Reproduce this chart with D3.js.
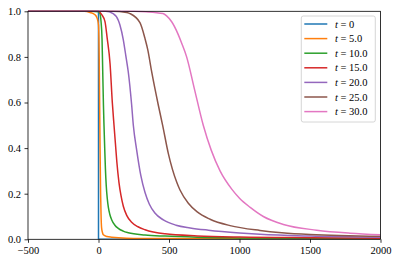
<!DOCTYPE html>
<html><head><meta charset="utf-8">
<script src="https://cdn.jsdelivr.net/npm/d3@7"></script>
<style>body{margin:0;background:#fff}svg{display:block}text{font-family:"Liberation Serif","DejaVu Serif",serif}</style>
</head><body><div id="c"></div>
<script>
const labels = ["0", "5.0", "10.0", "15.0", "20.0", "25.0", "30.0"];
const colors = ["#1f77b4","#ff7f0e","#2ca02c","#d62728","#9467bd","#8c564b","#e377c2"];
const xTicks = [-500, 0, 500, 1000, 1500, 2000];
const yTicks = [0, 0.2, 0.4, 0.6, 0.8, 1.0];

const s0 = [[-500,1],[0,1],[0,0],[2000,0]];
const s5 = [[-500,1],[-100,1],[-60,0.995],[-25,0.985],[-10,0.97],[0,0.94],[5,0.8],[8,0.6],[11,0.4],[15,0.2],[18,0.11],[22,0.05],[28,0.03],[34,0.02],[60,0.012],[94,0.009],[200,0.005],[500,0.003],[1000,0.002],[2000,0.001]];
const s10 = [[-500,1],[-50,1],[0,0.998],[10,0.99],[18,0.955],[25,0.88],[30,0.735],[35,0.59],[39,0.5],[44,0.4],[49,0.31],[55,0.235],[62,0.18],[70,0.14],[80,0.11],[94,0.085],[115,0.063],[140,0.048],[175,0.036],[211,0.029],[330,0.019],[472,0.014],[700,0.009],[1000,0.006],[1500,0.004],[2000,0.003]];
const s15 = [[-500,1],[0,1],[11,0.995],[23,0.985],[46,0.955],[62,0.88],[82,0.77],[98,0.6],[110,0.5],[120,0.42],[130,0.34],[145,0.25],[160,0.19],[176,0.145],[200,0.105],[235,0.075],[280,0.055],[330,0.042],[472,0.024],[700,0.015],[1000,0.01],[1500,0.007],[2000,0.005]];
const s20 = [[-500,1],[50,1],[104,0.99],[141,0.96],[152,0.94],[176,0.875],[195,0.8],[211,0.735],[235,0.59],[247,0.5],[271,0.39],[300,0.28],[330,0.205],[360,0.155],[400,0.115],[460,0.085],[550,0.062],[650,0.05],[780,0.04],[1000,0.028],[1145,0.022],[1500,0.014],[2000,0.009]];
const s25 = [[-500,1],[100,1],[200,0.995],[223,0.99],[294,0.95],[330,0.88],[350,0.83],[377,0.735],[424,0.589],[455,0.5],[495,0.377],[555,0.25],[578,0.216],[637,0.158],[700,0.12],[791,0.088],[933,0.06],[1145,0.039],[1300,0.029],[1500,0.021],[2000,0.013]];
const s30 = [[-500,1],[250,1],[337,0.998],[457,0.99],[483,0.98],[519,0.954],[564,0.9],[590,0.86],[625,0.8],[680,0.66],[743,0.5],[800,0.39],[862,0.3],[945,0.22],[1000,0.18],[1076,0.14],[1169,0.1],[1311,0.065],[1547,0.04],[1784,0.027],[2000,0.02]];
const series = [s0, s5, s10, s15, s20, s25, s30];

const W = 399, H = 264;
const m = {l: 28, r: 18.5, t: 11.3, b: 24.7};
const svg = d3.select("#c").append("svg").attr("width", W).attr("height", H);
const x = d3.scaleLinear().domain([-500, 2000]).range([m.l, W - m.r]);
const y = d3.scaleLinear().domain([0, 1]).range([H - m.b, m.t]);

svg.append("clipPath").attr("id", "clip").append("rect")
  .attr("x", m.l).attr("y", m.t - 1).attr("width", x.range()[1] - m.l).attr("height", y(0) - m.t + 1);

const g = svg.append("g").attr("clip-path", "url(#clip)");
series.forEach((s, i) => {
  const line = d3.line().x(d => x(d[0])).y(d => y(d[1]))
    .curve(i === 0 ? d3.curveLinear : d3.curveMonotoneX);
  g.append("path").attr("d", line(s)).attr("fill", "none")
    .attr("stroke", colors[i]).attr("stroke-width", 1.5).attr("stroke-linejoin", "round");
});

const fmtX = d => d < 0 ? "\u2212" + Math.abs(d) : String(d);
const xAxis = svg.append("g").attr("transform", `translate(0,${y(0)})`)
  .call(d3.axisBottom(x).tickValues(xTicks).tickFormat(fmtX).tickSize(3.5).tickPadding(3.5));
const yAxis = svg.append("g").attr("transform", `translate(${m.l},0)`)
  .call(d3.axisLeft(y).tickValues(yTicks).tickFormat(d3.format(".1f")).tickSize(3.5).tickPadding(3.5));
[xAxis, yAxis].forEach(a => {
  a.select(".domain").remove();
  a.selectAll("line").attr("stroke", "#000").attr("stroke-width", 0.8);
  a.selectAll("text").attr("font-size", 10.5).attr("fill", "#000")
   .attr("font-family", '"Liberation Serif","DejaVu Serif",serif');
});
svg.append("rect").attr("x", m.l).attr("y", m.t).attr("width", x.range()[1] - m.l)
  .attr("height", y(0) - m.t).attr("fill", "none").attr("stroke", "#000").attr("stroke-width", 0.8);

const lg = svg.append("g");
lg.append("rect").attr("x", 301.3).attr("y", 16).attr("width", 74).attr("height", 106)
  .attr("rx", 2).attr("fill", "#fff").attr("fill-opacity", 0.8).attr("stroke", "#cccccc").attr("stroke-width", 0.8);
labels.forEach((lab, i) => {
  const cy = 24 + i * 14.6;
  lg.append("line").attr("x1", 304.3).attr("x2", 327.3).attr("y1", cy).attr("y2", cy)
    .attr("stroke", colors[i]).attr("stroke-width", 1.5);
  const t = lg.append("text").attr("x", 335).attr("y", cy + 3.6).attr("font-size", 10.5).attr("fill", "#000");
  t.append("tspan").attr("font-style", "italic").text("t");
  t.append("tspan").text(" = " + lab);
});
</script></body></html>
